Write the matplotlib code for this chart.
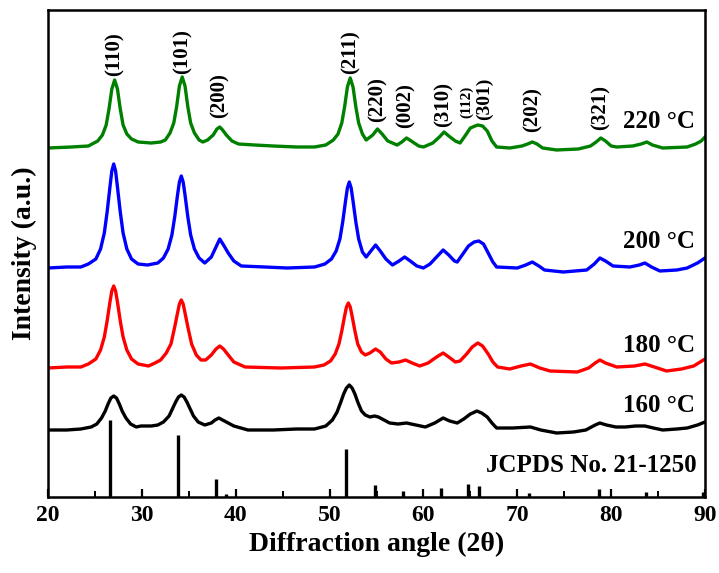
import matplotlib
matplotlib.use("Agg")
import matplotlib.pyplot as plt
from matplotlib.ticker import MultipleLocator

plt.rcParams['font.family'] = ['Liberation Serif', 'DejaVu Serif']
plt.rcParams['font.weight'] = 'bold'

# ---- data (2theta in degrees, intensity in arbitrary units incl. vertical offset) ----
x_220 = [20.0, 22.5, 24.3, 25.3, 25.8, 26.2, 26.5, 26.8, 27.1, 27.4, 27.7, 28.0, 28.4, 28.9,
         29.6, 31.0, 32.0, 32.5, 33.0, 33.4, 33.7, 34.0, 34.3, 34.6, 34.9, 35.2, 35.6, 36.1,
         36.5, 37.0, 37.6, 38.0, 38.3, 38.6, 39.0, 39.6, 40.3, 42.0, 44.0, 46.5, 48.4, 49.6,
         50.4, 50.9, 51.3, 51.6, 51.9, 52.2, 52.5, 52.8, 53.1, 53.5, 53.9, 54.6, 55.1, 55.6,
         56.2, 57.2, 57.7, 58.2, 58.7, 59.5, 60.0, 61.0, 61.7, 62.2, 62.7, 63.4, 63.9, 64.5,
         65.0, 65.5, 65.8, 66.3, 66.8, 67.3, 67.8, 69.2, 70.5, 71.1, 71.6, 72.1, 72.7, 74.2,
         76.5, 77.8, 78.4, 78.9, 79.4, 80.0, 80.6, 82.3, 83.2, 83.8, 84.4, 85.5, 88.1, 89.0,
         89.6, 90.0]
y_220 = [349, 350, 351, 356, 362, 372, 388, 408, 417, 408, 388, 372, 363, 358,
         355, 354, 355, 357, 364, 374, 390, 411, 420, 411, 390, 374, 364, 357,
         355, 357, 362, 368, 370, 367, 362, 356, 353, 352, 351, 350, 350, 352,
         357, 363, 374, 390, 410, 419, 410, 390, 374, 363, 357, 362, 368, 363,
         356, 352, 355, 359, 356, 351, 350, 354, 360, 365, 361, 356, 354, 362,
         369, 371, 372, 371, 366, 356, 350, 349, 351, 353, 355, 353, 349, 347,
         348, 351, 355, 359, 356, 351, 350, 351, 353, 355, 352, 349, 350, 353,
         356, 360]

x_200 = [20.0, 22.0, 23.5, 24.3, 25.1, 25.6, 26.0, 26.3, 26.6, 26.8, 27.0, 27.2, 27.4, 27.7,
         28.0, 28.4, 28.9, 29.6, 30.6, 31.7, 32.3, 32.8, 33.2, 33.5, 33.8, 34.0, 34.2, 34.4,
         34.6, 34.9, 35.2, 35.6, 36.1, 36.7, 37.4, 37.9, 38.3, 38.7, 39.2, 39.8, 40.6, 43.1,
         45.5, 48.4, 49.5, 50.2, 50.7, 51.1, 51.4, 51.7, 51.9, 52.1, 52.3, 52.5, 52.8, 53.1,
         53.5, 53.9, 54.4, 54.9, 55.4, 56.0, 56.7, 57.4, 58.0, 58.6, 59.3, 60.0, 60.7, 61.4,
         62.1, 62.7, 63.3, 63.6, 64.2, 64.8, 65.4, 65.9, 66.4, 66.9, 67.4, 67.8, 70.0, 70.9,
         71.6, 72.3, 72.9, 74.9, 77.4, 78.2, 78.8, 79.4, 80.2, 82.0, 83.0, 83.6, 84.3, 85.2,
         87.0, 88.1, 89.2, 90.0]
y_200 = [229, 230, 230, 233, 238, 248, 264, 285, 310, 326, 333, 326, 310, 285,
         264, 248, 238, 233, 232, 234, 239, 248, 262, 280, 302, 315, 321, 315,
         302, 280, 262, 248, 239, 234, 240, 250, 258, 252, 244, 236, 231, 230,
         229, 230, 233, 238, 246, 258, 275, 296, 309, 315, 309, 296, 275, 258,
         245, 240, 246, 252, 246, 238, 232, 236, 240, 236, 231, 229, 233, 240,
         247, 242, 236, 235, 243, 251, 255, 256, 253, 244, 235, 230, 229, 232,
         235, 231, 227, 225, 227, 233, 239, 236, 231, 230, 232, 234, 230, 226,
         227, 229, 234, 239]

x_180 = [20.0, 22.0, 23.5, 24.3, 25.1, 25.6, 26.0, 26.3, 26.6, 26.8, 27.0, 27.2, 27.4, 27.7,
         28.0, 28.4, 28.9, 29.6, 30.7, 31.4, 32.0, 32.6, 33.1, 33.5, 33.8, 34.0, 34.2, 34.4,
         34.6, 34.9, 35.3, 35.8, 36.3, 36.8, 37.4, 37.9, 38.3, 38.7, 39.2, 39.8, 41.0, 44.8,
         48.4, 49.4, 50.1, 50.6, 51.0, 51.3, 51.6, 51.8, 52.0, 52.2, 52.4, 52.7, 53.0, 53.4,
         53.8, 54.3, 54.9, 55.4, 56.0, 56.6, 57.4, 58.1, 58.8, 59.6, 60.5, 61.4, 62.1, 62.7,
         63.4, 63.9, 64.6, 65.2, 65.8, 66.3, 66.9, 67.4, 67.9, 69.2, 70.4, 71.4, 72.4, 73.5,
         76.4, 77.6, 78.3, 78.8, 79.4, 80.6, 82.5, 83.6, 84.6, 85.9, 87.5, 88.8, 90.0]
y_180 = [129, 130, 130, 133, 138, 147, 160, 176, 195, 206, 211, 206, 195, 176,
         160, 147, 138, 133, 131, 134, 137, 144, 153, 170, 184, 193, 197, 193,
         184, 170, 153, 142, 137, 137, 142, 148, 151, 148, 142, 135, 130, 129,
         130, 132, 136, 143, 153, 166, 181, 190, 194, 190, 181, 166, 153, 145,
         142, 144, 148, 145, 138, 134, 135, 137, 134, 131, 134, 140, 144, 140,
         135, 136, 143, 150, 154, 151, 143, 135, 130, 128, 131, 133, 129, 126,
         125, 129, 134, 137, 134, 130, 131, 133, 130, 126, 128, 131, 138]

x_160 = [20.0, 22.0, 23.5, 24.6, 25.2, 25.7, 26.1, 26.4, 26.7, 27.0, 27.3, 27.6, 27.9, 28.3,
         28.8, 29.4, 29.9, 31.0, 31.7, 32.3, 32.9, 33.3, 33.6, 33.9, 34.2, 34.5, 34.8, 35.1,
         35.5, 36.0, 36.7, 37.4, 37.8, 38.2, 38.6, 39.2, 39.8, 41.3, 44.0, 46.5, 48.4, 49.6,
         50.3, 50.8, 51.2, 51.5, 51.8, 52.1, 52.4, 52.7, 53.0, 53.4, 53.8, 54.3, 54.8, 55.2,
         55.8, 56.4, 57.3, 58.2, 59.2, 60.2, 61.2, 62.1, 62.8, 63.6, 64.3, 65.0, 65.7, 66.2,
         66.8, 67.3, 67.8, 69.5, 71.4, 72.5, 74.2, 76.0, 77.3, 78.3, 78.8, 79.5, 80.5, 81.5,
         82.6, 83.6, 84.5, 85.5, 87.0, 88.1, 89.2, 90.0]
y_160 = [67, 67, 68, 70, 73, 79, 86, 93, 99, 101, 99, 93, 86, 79,
         73, 70, 71, 71, 72, 75, 81, 89, 95, 100, 102, 100, 95, 89,
         81, 75, 72, 74, 77, 79, 77, 74, 71, 67, 67, 68, 68, 71,
         77, 85, 95, 103, 109, 112, 109, 103, 95, 86, 82, 80, 81, 80,
         77, 74, 73, 74, 72, 70, 74, 79, 76, 74, 78, 83, 86, 84,
         80, 74, 69, 69, 70, 67, 64, 65, 67, 72, 74, 72, 70, 70,
         71, 71, 69, 67, 68, 69, 72, 75]

series_x = [x_160, x_180, x_200, x_220]
series_y = [y_160, y_180, y_200, y_220]
series_colors = ['black', '#ff0000', '#0000ff', '#008000']
temp_labels = ['160 \u00b0C', '180 \u00b0C', '200 \u00b0C', '220 \u00b0C']
temp_label_y = [92, 152, 256, 375]

# JCPDS No. 21-1250 reference pattern
ref_angles = [26.6, 33.9, 37.95, 38.97, 51.8, 54.8, 57.8, 61.9, 64.7, 65.9, 71.3, 78.7, 83.7, 89.8]
ref_heights = [77, 62, 18, 3, 48, 12, 6, 9, 13, 11, 4, 8, 5, 5]

# hkl labels
hkl_text = ['(110)', '(101)', '(200)', '(211)', '(220)', '(002)', '(310)', '(112)', '(301)', '(202)', '(321)']
hkl_x = [27.1, 34.3, 38.3, 52.2, 55.1, 58.1, 62.1, 64.55, 66.5, 71.6, 78.9]
hkl_y = [421, 423, 379, 423, 375, 369, 370, 379, 377, 365, 367]
hkl_size = [15, 15, 15, 15, 15, 15, 15, 11, 14, 15, 15]

# ---- figure ----
fig = plt.figure(figsize=(7.19, 5.73), dpi=100)
ax = fig.add_axes([48 / 719, 76 / 573, 657 / 719, 487 / 573])

for xs, ys, c in zip(series_x, series_y, series_colors):
    ax.plot(xs, ys, color=c, lw=2.4, solid_joinstyle='round')

ax.vlines(ref_angles, 0, ref_heights, color='black', lw=2.4)

for t, yy in zip(temp_labels, temp_label_y):
    ax.text(88.9, yy, t, ha='right', va='center', fontsize=18, fontweight='bold')
ax.text(89.1, 32, 'JCPDS No. 21-1250', ha='right', va='center', fontsize=18, fontweight='bold')

for t, xx, yy, fs in zip(hkl_text, hkl_x, hkl_y, hkl_size):
    ax.text(xx, yy, t, rotation=90, ha='center', va='bottom', fontsize=fs, fontweight='bold')

ax.set_xlim(20, 90)
ax.set_ylim(0, 487)
ax.xaxis.set_major_locator(MultipleLocator(10))
ax.xaxis.set_minor_locator(MultipleLocator(5))
ax.tick_params(axis='x', which='major', direction='in', length=6, width=1.6, labelsize=17, pad=6)
ax.tick_params(axis='x', which='minor', direction='in', length=4, width=1.4)
ax.set_yticks([])
for lab in ax.get_xticklabels():
    lab.set_fontweight('bold')
for sp in ax.spines.values():
    sp.set_linewidth(1.8)

ax.set_xlabel('Diffraction angle (2\u03b8)', fontsize=20, fontweight='bold', labelpad=4)
ax.set_ylabel('Intensity (a.u.)', fontsize=20, fontweight='bold', labelpad=8)

fig.savefig('out.png', dpi=100)
